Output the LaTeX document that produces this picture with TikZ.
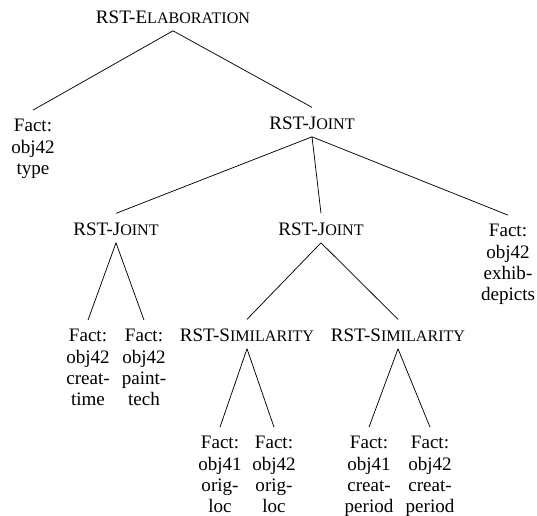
\documentclass[tikz,border=0pt]{standalone}
\usepackage{fontspec}
\setmainfont{Liberation Serif}
\newcommand{\rstsc}[2]{#1{\fontsize{8.7}{10}\selectfont #2}}
\tikzset{
  rel/.style={inner sep=0pt, anchor=center},
  fact/.style={inner sep=0pt, anchor=north, align=center}
}
\begin{document}
\begin{tikzpicture}[x=0.5405pt, y=-0.5405pt, font=\rmfamily\fontsize{10.3}{11.5}\selectfont]
\useasboundingbox (0,0) rectangle (537,515);

\node[rel] (elab) at (173,17) {RST-\rstsc{E}{LABORATION}};
\node[fact] (type) at (33,119) {Fact:\\obj42\\type};
\node[rel] (jointA) at (312,123) {RST-\rstsc{J}{OINT}};

\node[rel] (jointB) at (116,229) {RST-\rstsc{J}{OINT}};
\node[rel] (jointC) at (321,229) {RST-\rstsc{J}{OINT}};
\node[fact] (exhib) at (508,224) {Fact:\\obj42\\exhib-\\depicts};

\node[fact] (ctime) at (88,329) {Fact:\\obj42\\creat-\\time};
\node[fact] (ptech) at (144,329) {Fact:\\obj42\\paint-\\tech};
\node[rel] (simA) at (247,335) {RST-\rstsc{S}{IMILARITY}};
\node[rel] (simB) at (398,335) {RST-\rstsc{S}{IMILARITY}};

\node[fact] (locA) at (220,436) {Fact:\\obj41\\orig-\\loc};
\node[fact] (locB) at (274,436) {Fact:\\obj42\\orig-\\loc};
\node[fact] (perA) at (369,436) {Fact:\\obj41\\creat-\\period};
\node[fact] (perB) at (430,436) {Fact:\\obj42\\creat-\\period};

% tree edges
\foreach \p/\c in {elab/type, elab/jointA, jointA/jointB, jointA/jointC, jointA/exhib,
                   jointB/ctime, jointB/ptech, jointC/simA, jointC/simB,
                   simA/locA, simA/locB, simB/perA, simB/perB}
  {\draw ([yshift=-3.8pt]\p.south) -- ([yshift=4.8pt]\c.north);}
\end{tikzpicture}
\end{document}
